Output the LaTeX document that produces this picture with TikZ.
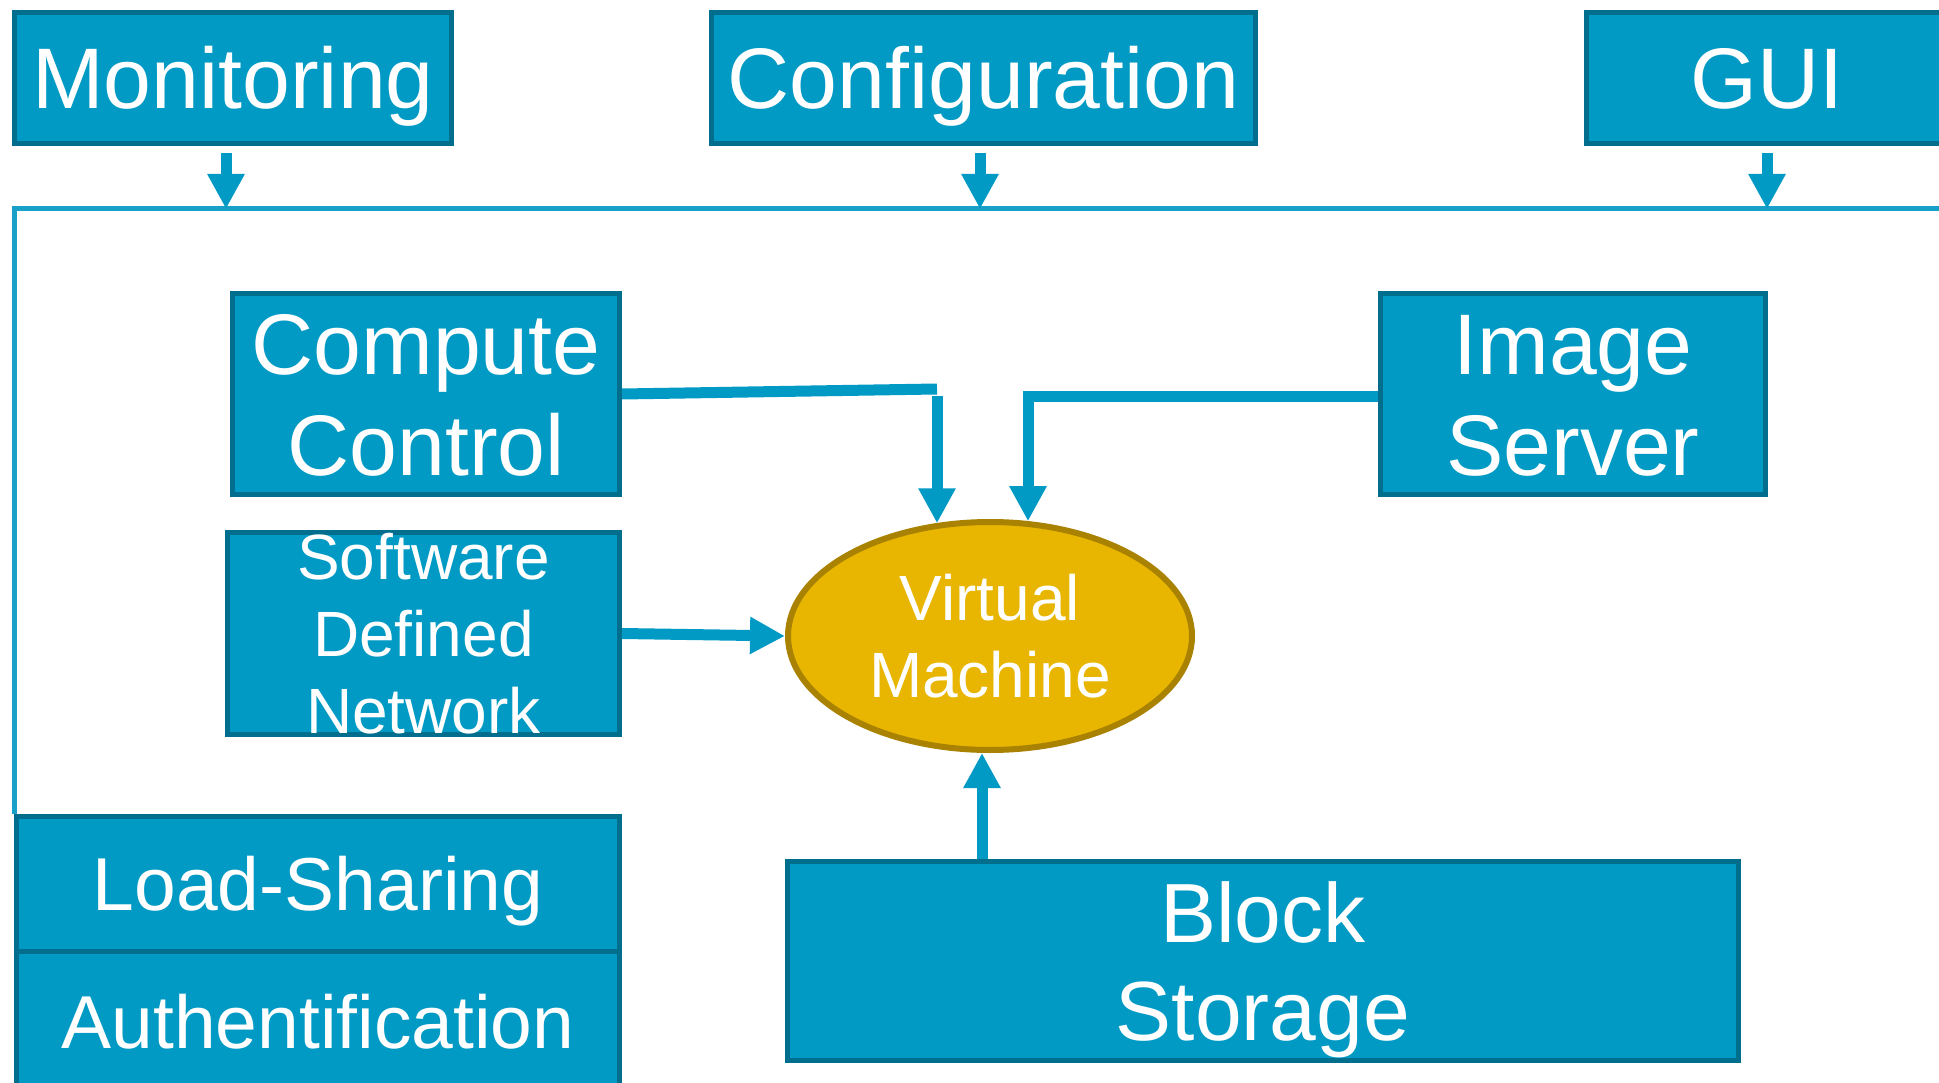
\documentclass[tikz,border=0pt]{standalone}
\usepackage{fontspec}
\setmainfont{Liberation Sans}
\usetikzlibrary{arrows.meta,shapes.geometric}
\definecolor{boxfill}{RGB}{0,154,196}
\definecolor{boxline}{RGB}{0,110,140}
\definecolor{busline}{RGB}{24,160,201}
\definecolor{vmfill}{RGB}{232,182,0}
\definecolor{vmline}{RGB}{168,130,0}
\begin{document}
\begin{tikzpicture}[x=1pt,y=-1pt,
  block/.style={draw=boxline, fill=boxfill, line width=5pt, inner sep=0pt,
    text=white, align=center, anchor=center},
  bigone/.style={font=\fontsize{86}{101}\selectfont, text height=61.6pt, text depth=0pt},
  bigtwo/.style={font=\fontsize{86}{101}\selectfont, text height=162.6pt, text depth=0pt},
  midone/.style={font=\fontsize{75}{90}\selectfont, text height=53.7pt, text depth=0pt},
  storetext/.style={font=\fontsize{84}{98}\selectfont, text height=158.1pt, text depth=0pt},
  smallthree/.style={font=\fontsize{64}{77}\selectfont, text height=199.8pt, text depth=0pt},
  smalltwo/.style={font=\fontsize{64}{77}\selectfont, text height=122.8pt, text depth=0pt},
  conn/.style={draw=boxfill, line width=11pt},
  arr/.style={conn, -{Triangle[length=35pt,width=35pt]}},
  bus/.style={draw=busline, line width=5pt}
]
\useasboundingbox (0,0) rectangle (1939,1083);
\clip (0,0) rectangle (1939,1083);

% top row of services
\node[block, bigone, minimum width=437pt, minimum height=131pt] (mon) at (233,78) {Monitoring};
\node[block, bigone, minimum width=544pt, minimum height=131pt] (cfg) at (983.5,78) {Configuration};
\node[block, bigone, minimum width=361pt, minimum height=131pt] (gui) at (1767,78) {GUI};

% middle components
\node[block, bigtwo, minimum width=387pt, minimum height=201pt] (cc) at (426,394) {Compute\\Control};
\node[block, smallthree, minimum width=392pt, minimum height=202pt] (sdn) at (423.5,633.5) {Software\\Defined\\Network};
\node[block, bigtwo, minimum width=385pt, minimum height=201pt] (is) at (1573,394) {Image\\Server};

% virtual machine
\node[ellipse, draw=vmline, fill=vmfill, line width=6pt, minimum width=404pt,
  minimum height=228pt, inner sep=0pt, text=white, align=center, smalltwo] (vm) at (990,636) {Virtual\\Machine};

% bottom stack and storage
\node[block, midone, minimum width=603pt, minimum height=134.5pt] (ls) at (318,883.75) {Load-Sharing};
\node[block, midone, minimum width=603pt, minimum height=142pt] (auth) at (318,1022) {Authentification};
\node[block, storetext, minimum width=951pt, minimum height=199pt] (bs) at (1263,961) {Block\\Storage};

% management bus
\coordinate (buscorner) at (14,209);
\coordinate (busend) at (1950,209);
\draw[bus] (buscorner |- ls.north) -- (buscorner) -- (busend);

% services feeding the bus
\draw[arr] ([xshift=-7pt,yshift=-7pt]mon.south) -- ([xshift=-7pt]mon.south |- buscorner);
\draw[arr] ([xshift=-3.5pt,yshift=-7pt]cfg.south) -- ([xshift=-3.5pt]cfg.south |- buscorner);
\draw[arr] ([yshift=-7pt]gui.south) -- (gui.south |- buscorner);

% compute control to the virtual machine
\coordinate (ccbend) at (937,389);
\coordinate (ccdrop) at (937,396);
\draw[conn] (cc.east) -- (ccbend);
\draw[arr] (ccdrop) -- (ccdrop |- vm.116);

% image server to the virtual machine
\coordinate (isbend) at (1028,396);
\draw[arr, line join=miter] (is.west |- isbend) -- (isbend) -- (isbend |- vm.71);

% network to the virtual machine
\draw[arr] (sdn.east) -- (vm.west);

% storage to the virtual machine
\coordinate (bsup) at (982,859);
\draw[arr] (bsup) -- (bsup |- vm.south);
\end{tikzpicture}
\end{document}
